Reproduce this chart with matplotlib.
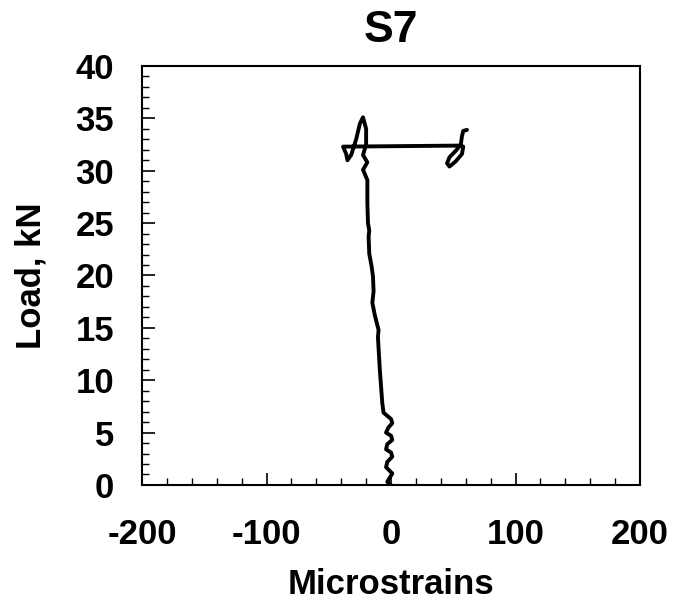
import matplotlib
matplotlib.use("Agg")
import matplotlib.pyplot as plt
from matplotlib.ticker import MultipleLocator

plt.rcParams['font.family'] = ['Liberation Sans', 'DejaVu Sans']
plt.rcParams['axes.unicode_minus'] = False

title = "S7"
x_label = "Microstrains"
y_label = "Load, kN"

strain = [0, -3, -1, 1, -4, -3, 1, 0, -4, -3, 1, 0, -4, -2, 1, 0, -6, -7, -9, -10.5, -10, -11.5,
          -13, -15, -14, -14.5, -15.5, -17.5, -18, -17.5, -18.5, -19, -19, -22.5, -19, -22.5,
          -20, -20, -22.5, -25, -28, -32, -35, -36, -38.5,
          55, 58, 57, 52, 47, 45, 47, 52, 56, 57, 58, 61]
load = [0, 0.3, 0.7, 1.1, 1.7, 2.2, 2.7, 3.1, 3.4, 3.9, 4.3, 4.7, 5.0, 5.5, 5.9, 6.3, 6.9, 7.8, 11, 14.1, 14.8, 15.5,
        16.2, 17.4, 18.5, 19.9, 20.8, 22.1, 23.7, 24.3, 25, 26.9, 29.1, 30.1, 30.8, 31.5,
        32.5, 34, 35.1, 34.5, 33, 31.5, 31, 31.6, 32.3,
        32.4, 32.3, 31.6, 30.9, 30.4, 30.7, 31.3, 31.9, 32.5, 33.3, 33.8, 33.9]

x_ticks = [-200, -100, 0, 100, 200]
y_ticks = [0, 5, 10, 15, 20, 25, 30, 35, 40]

fig = plt.figure(figsize=(6.74, 6.02), dpi=100)
ax = fig.add_axes([0.2107, 0.1944, 0.7389, 0.696])
ax.plot(strain, load, color='black', lw=2.8, solid_joinstyle='round', solid_capstyle='round')
ax.set_xlim(-200, 200)
ax.set_ylim(0, 40)
ax.set_xticks(x_ticks)
ax.set_yticks(y_ticks)
ax.xaxis.set_minor_locator(MultipleLocator(20))
ax.yaxis.set_minor_locator(MultipleLocator(1))
ax.tick_params(which='major', direction='in', length=9, width=1.2, labelsize=25)
ax.tick_params(which='minor', direction='in', length=5, width=1.0)
ax.tick_params(axis='x', which='major', pad=24)
ax.tick_params(axis='y', which='major', pad=20)
for lab in ax.get_xticklabels() + ax.get_yticklabels():
    lab.set_fontweight('bold')
for s in ax.spines.values():
    s.set_linewidth(1.5)
ax.set_title(title, fontsize=32, fontweight='bold', pad=17)
ax.set_xlabel(x_label, fontsize=25, fontweight='bold', labelpad=12)
ax.set_ylabel(y_label, fontsize=25, fontweight='bold', labelpad=20)
fig.savefig("out.png", dpi=100)
